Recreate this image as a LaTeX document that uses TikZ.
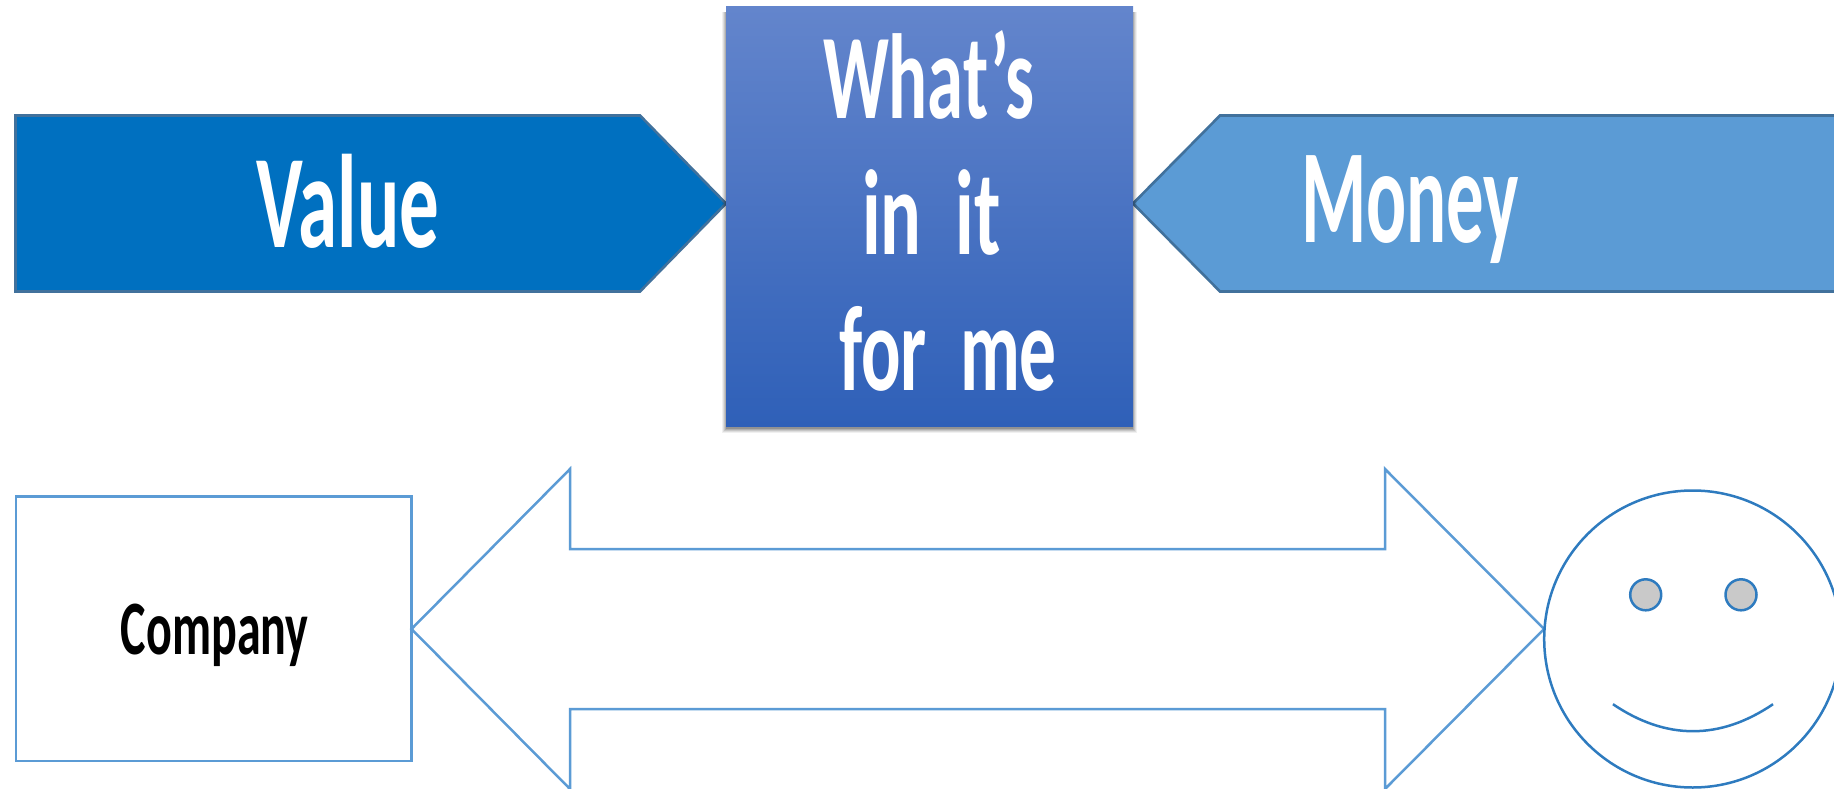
\documentclass[tikz,border=0pt]{standalone}
\usepackage{fontspec}
\usepackage{graphicx}
\setmainfont{Carlito}
\definecolor{valueblue}{HTML}{0070C0}
\definecolor{moneyblue}{HTML}{5B9BD5}
\definecolor{darkedge}{HTML}{41719C}
\definecolor{faceblue}{HTML}{2E7BBF}
\definecolor{eyegrey}{HTML}{C9C9C9}
\definecolor{boxtop}{HTML}{6385CC}
\definecolor{boxmid}{HTML}{4170CA}
\definecolor{boxbottom}{HTML}{2F60B8}
\newcommand{\fitw}[3]{\resizebox{#1pt}{\height}{\fontsize{#2}{#2}\selectfont\bfseries #3}}
\tikzset{
  wordlabel/.style={inner sep=0pt,anchor=base,text=white},
  banner/.style={draw=darkedge,line width=2.6pt,line join=miter},
  outline/.style={draw=moneyblue,line width=2.5pt,fill=white,line join=miter},
  face/.style={draw=faceblue,line width=2.5pt},
  boxshade/.style={inner sep=0pt,outer sep=0pt,minimum width=407pt,minimum height=419pt,anchor=north west,
    top color=boxtop,middle color=boxmid,bottom color=boxbottom}
}
\begin{document}
\begin{tikzpicture}[x=1pt,y=-1pt]
\useasboundingbox (0,0) rectangle (1834,789);
\clip (0,0) rectangle (1834,789);
% banners
\path[banner,fill=valueblue] (15.5,115.5) -- (640,115.5) -- (726,203.5) -- (640,291.5) -- (15.5,291.5) -- cycle;
\path[banner,fill=moneyblue] (1840,115.5) -- (1220,115.5) -- (1133,203.5) -- (1220,291.5) -- (1840,291.5) -- cycle;
% shadow of the centre box
\foreach \g/\o in {4/.06,3/.08,2/.10,1/.12,0/.16}{
  \fill[black,opacity=\o] (726-\g,12) rectangle (1133+\g,429+\g);
}
\node[boxshade] (box) at (726,7) {};
% words
\node[wordlabel] (value) at (347.8,247) {\fitw{183}{133}{Value}};
\node[wordlabel] (money) at (1410,242) {\fitw{218}{134}{Money}};
\node[wordlabel] (whats) at (928.5,119) {\fitw{211}{121}{What’s}};
\node[wordlabel] (inits) at (931.5,254) {\fitw{139}{121}{in\ \ it}};
\node[wordlabel] (forme) at (948,390) {\fitw{218}{121}{for\ \ me}};
% lower row
\draw[outline] (16,496.5) rectangle (411.5,761);
\node[wordlabel,text=black] (company) at (214.7,654) {\fitw{187.5}{77}{Company}};
\path[outline] (411.5,629) -- (570,469) -- (570,549) -- (1385,549) -- (1385,469) -- (1544,629)
  -- (1385,789) -- (1385,709) -- (570,709) -- (570,789) -- cycle;
% smiley
\draw[face] (1692.7,639) circle (148.5);
\draw[face,fill=eyegrey] (1645.7,594.8) circle (15.5);
\draw[face,fill=eyegrey] (1741,594.8) circle (15.5);
\draw[face] (1613,704.2) .. controls (1666,740.2) and (1720,740.2) .. (1773,704.2);
\end{tikzpicture}
\end{document}
